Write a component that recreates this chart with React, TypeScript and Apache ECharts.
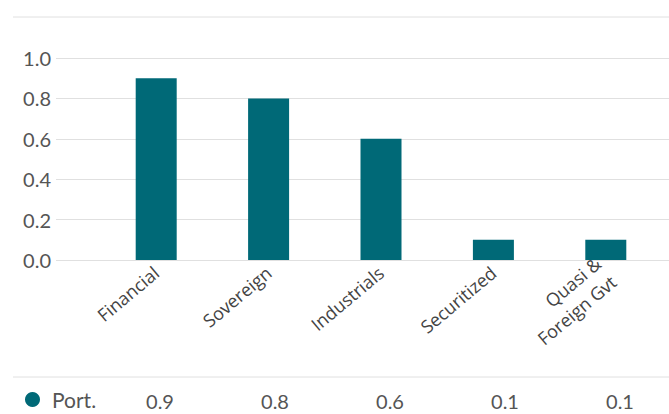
import React, { useEffect, useRef } from "react";
import * as echarts from "echarts";

const categories = ["Financial", "Sovereign", "Industrials", "Securitized", "Quasi &\nForeign Gvt"];
const portValues = [0.9, 0.8, 0.6, 0.1, 0.1];
const seriesName = "Port.";
const yTicks = { min: 0, max: 1, interval: 0.2 };

const BAR = "#006977";
const NUM_FONT = "Lato, sans-serif";
const LABEL_FONT = "'Open Sans', sans-serif";

export default function App() {
  const ref = useRef<HTMLDivElement>(null);
  useEffect(() => {
    if (!ref.current) return;
    const chart = echarts.init(ref.current, undefined, { renderer: "svg" });
    const W = 669;
    const tableStart = 160;
    const tableStep = 115;
    const tableTexts = portValues.map((v, i) => ({
      type: "text",
      x: tableStart + i * tableStep,
      y: 401,
      style: {
        text: v.toFixed(1),
        fill: "#555",
        font: `20px ${NUM_FONT}`,
        textAlign: "center",
        textVerticalAlign: "middle",
      },
    }));
    chart.setOption({
      animation: false,
      textStyle: { fontFamily: NUM_FONT },
      grid: [
        { left: 56, right: 0, top: 58, bottom: 154 },
        { left: 100, right: 7, top: 58, bottom: 154 },
      ],
      legend: {
        left: 25,
        top: 389,
        padding: 0,
        icon: "circle",
        itemWidth: 15,
        itemHeight: 15,
        itemGap: 8,
        selectedMode: false,
        formatter: (name: string) => `{t|${name}}`,
        textStyle: {
          fontSize: 21,
          color: "#555",
          fontFamily: NUM_FONT,
          rich: { t: { fontSize: 21, color: "#555", fontFamily: NUM_FONT, padding: [0, 0, 0, 7] } },
        },
        data: [seriesName],
      },
      xAxis: [
        { type: "category", gridIndex: 0, show: false, data: categories },
        {
          type: "category",
          gridIndex: 1,
          data: categories,
          axisLine: { show: false },
          axisTick: { show: false },
          axisLabel: {
            rotate: 40,
            interval: 0,
            margin: 10,
            fontSize: 18,
            color: "#444",
            fontFamily: LABEL_FONT,
            lineHeight: 24,
          },
        },
      ],
      yAxis: [
        {
          type: "value",
          gridIndex: 0,
          ...yTicks,
          axisLine: { show: false },
          axisTick: { show: false },
          splitLine: { lineStyle: { color: "#e0e0e0", width: 1 } },
          axisLabel: {
            fontSize: 20,
            color: "#555",
            margin: 5,
            fontFamily: NUM_FONT,
            formatter: (v: number) => v.toFixed(1),
          },
        },
        { type: "value", gridIndex: 1, ...yTicks, show: false, splitLine: { show: false } },
      ],
      series: [
        {
          name: seriesName,
          type: "bar",
          xAxisIndex: 1,
          yAxisIndex: 1,
          data: portValues,
          barWidth: 41,
          itemStyle: { color: BAR },
        },
      ],
      graphic: [
        {
          type: "line",
          shape: { x1: 13, y1: 17, x2: W, y2: 17 },
          style: { stroke: "#e0e0e0", lineWidth: 1 },
        },
        {
          type: "line",
          shape: { x1: 13, y1: 377, x2: W, y2: 377 },
          style: { stroke: "#e0e0e0", lineWidth: 1 },
        },
        ...tableTexts,
      ],
    });
    return () => chart.dispose();
  }, []);
  return (
    <div
      ref={ref}
      style={{ position: "absolute", left: 0, top: 0, width: 669, height: 414, background: "#fff" }}
    />
  );
}
